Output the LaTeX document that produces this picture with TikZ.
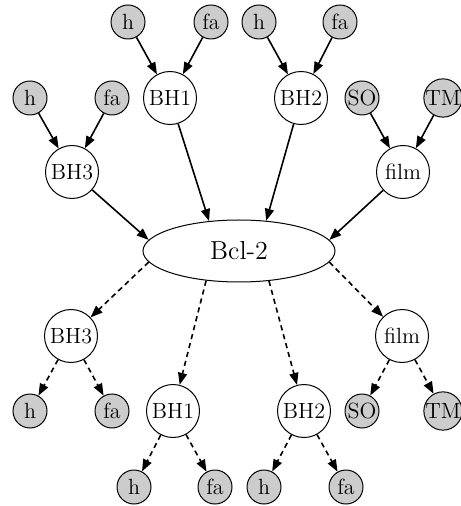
\documentclass[tikz,border=0pt]{standalone}
\usetikzlibrary{arrows.meta,shapes.geometric}
\begin{document}
\begin{tikzpicture}[x=0.5pt,y=-0.5pt,
  var/.style={circle,draw,line width=0.5pt,fill=white,inner sep=0pt,minimum size=26.5pt,font=\fontsize{11}{13}\selectfont},
  obs/.style={circle,draw,line width=0.5pt,fill=black!20,inner sep=0pt,minimum size=17pt,font=\fontsize{11}{13}\selectfont},
  hub/.style={ellipse,draw,line width=0.5pt,inner sep=0pt,minimum width=96pt,minimum height=31pt,font=\fontsize{13}{15}\selectfont},
  gen/.style={line width=0.8pt,-{Triangle[length=6pt,width=4.5pt]}},
  inf/.style={gen,dash pattern=on 2.6pt off 2pt}]
\useasboundingbox (0,0) rectangle (460,506);

% generative half
\node[obs] (h1t) at (128,22) {h};
\node[obs] (fa1t) at (211,22) {fa};
\node[obs] (h2t) at (259,22) {h};
\node[obs] (fa2t) at (340,22) {fa};
\node[obs] (h3t) at (30,98) {h};
\node[obs] (fa3t) at (112,98) {fa};
\node[var] (bh1t) at (170,98) {BH1};
\node[var] (bh2t) at (301,98) {BH2};
\node[obs] (sot) at (362,98) {SO};
\node[obs] (tmt) at (443,98) {TM};
\node[var] (bh3t) at (72,172) {BH3};
\node[var] (filmt) at (403,172) {film};

\node[hub] (bcl) at (239,251) {Bcl-2};

% inference half
\node[var] (bh3b) at (71,336) {BH3};
\node[var] (filmb) at (402,336) {film};
\node[obs] (h3b) at (30,411) {h};
\node[obs] (fa3b) at (112,411) {fa};
\node[var] (bh1b) at (173,411) {BH1};
\node[var] (bh2b) at (304,411) {BH2};
\node[obs] (sob) at (362,411) {SO};
\node[obs] (tmb) at (443,411) {TM};
\node[obs] (h1b) at (134,487) {h};
\node[obs] (fa1b) at (215,487) {fa};
\node[obs] (h2b) at (264,487) {h};
\node[obs] (fa2b) at (346,487) {fa};

% solid edges
\draw[gen] (h1t) -- (bh1t);
\draw[gen] (fa1t) -- (bh1t);
\draw[gen] (h2t) -- (bh2t);
\draw[gen] (fa2t) -- (bh2t);
\draw[gen] (h3t) -- (bh3t);
\draw[gen] (fa3t) -- (bh3t);
\draw[gen] (sot) -- (filmt);
\draw[gen] (tmt) -- (filmt);
\draw[gen] (bh3t) -- (bcl.173);
\draw[gen] (bh1t) -- (bcl.135);
\draw[gen] (bh2t) -- (bcl.48);
\draw[gen] (filmt) -- (bcl.7);

% dashed edges
\draw[inf] (bcl.187) -- (bh3b);
\draw[inf] (bcl.222) -- (bh1b);
\draw[inf] (bcl.315) -- (bh2b);
\draw[inf] (bcl.353) -- (filmb);
\draw[inf] (bh3b) -- (h3b);
\draw[inf] (bh3b) -- (fa3b);
\draw[inf] (bh1b) -- (h1b);
\draw[inf] (bh1b) -- (fa1b);
\draw[inf] (bh2b) -- (h2b);
\draw[inf] (bh2b) -- (fa2b);
\draw[inf] (filmb) -- (sob);
\draw[inf] (filmb) -- (tmb);
\end{tikzpicture}
\end{document}
